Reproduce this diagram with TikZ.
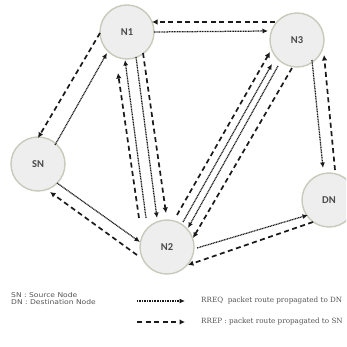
\documentclass[tikz,border=0pt]{standalone}
\usepackage{fontspec}
\usepackage{graphicx}
\setmainfont{DejaVu Serif}
\newfontfamily\nodefont{Carlito}
\newfontfamily\legsans{DejaVu Sans}
\newfontfamily\legserif{DejaVu Serif}
\usetikzlibrary{arrows.meta}
\definecolor{nodefill}{HTML}{EEEEEE}
\definecolor{ringc}{HTML}{C9C9BC}
\definecolor{labc}{HTML}{4A4A4A}
\definecolor{linec}{HTML}{1A1A1A}
\definecolor{legc}{HTML}{555555}
\tikzset{
  nd/.style={circle, draw=ringc, line width=1.4pt, fill=nodefill, minimum size=54pt,
    inner sep=0pt, font=\nodefont\fontsize{10.5}{12}\selectfont\bfseries, text=labc},
  rreq/.style={draw=linec, line width=1.25pt, dash pattern=on 1pt off 0.65pt,
    -{Latex[length=5.5pt,width=5pt]}},
  rrep/.style={draw=linec, line width=1.7pt, dash pattern=on 5pt off 3.5pt,
    -{Latex[length=5.5pt,width=5.5pt]}},
  legsanstxt/.style={anchor=west, inner sep=0pt, text=legc,
    font=\legsans\fontsize{6.6}{7}\selectfont},
  legseriftxt/.style={anchor=west, inner sep=0pt, text=legc,
    font=\legserif\fontsize{7.2}{8}\selectfont},
}
\begin{document}
\begin{tikzpicture}[x=1pt,y=-1pt]
\path[use as bounding box] (0,0) rectangle (346,347);
\clip (0,0) rectangle (346,347);
\fill[white] (0,0) rectangle (346,347);

% nodes
\node[nd] (N1) at (127,32) {N1};
\node[nd] (N3) at (297,40) {N3};
\node[nd] (SN) at (38,164) {SN};
\node[nd] (N2) at (167,247) {N2};
\node[nd] (DN) at (329,200) {DN};

% N1 <-> N3
\draw[rreq] ([shift={(27,0)}]N1.center) -- ([shift={(-29,-9)}]N3.center);
\draw[rrep] ([shift={(-22,-18)}]N3.center) -- ([shift={(25,-10)}]N1.center);

% SN <-> N1
\draw[rreq] ([shift={(17,-19)}]SN.center) -- ([shift={(-20,21)}]N1.center);
\draw[rrep] ([shift={(-27,1)}]N1.center) -- ([shift={(0,-26)}]SN.center);

% N1 <-> N2
\draw[rrep] ([shift={(-28,-29)}]N2.center) -- ([shift={(-9,41)}]N1.center);
\draw[rreq] ([shift={(-21,-29)}]N2.center) -- ([shift={(-2,28)}]N1.center);
\draw[rreq] ([shift={(9,25)}]N1.center) -- ([shift={(-10,-29)}]N2.center);
\draw[rrep] ([shift={(16,21)}]N1.center) -- ([shift={(-1,-34)}]N2.center);

% N2 <-> N3
\draw[rrep] ([shift={(10,-32)}]N2.center) -- ([shift={(-27,12)}]N3.center);
\draw[rreq] ([shift={(16,-25)}]N2.center) -- ([shift={(-25,24)}]N3.center);
\draw[rreq] ([shift={(-19,26)}]N3.center) -- ([shift={(21,-19)}]N2.center);
\draw[rrep] ([shift={(-5,28)}]N3.center) -- ([shift={(26,-9)}]N2.center);

% N3 <-> DN
\draw[rreq] ([shift={(15,20)}]N3.center) -- ([shift={(-6,-32)}]DN.center);
\draw[rrep] ([shift={(6,-30)}]DN.center) -- ([shift={(27,15)}]N3.center);

% SN <-> N2
\draw[rreq] ([shift={(19,19)}]SN.center) -- ([shift={(-27,-5)}]N2.center);
\draw[rrep] ([shift={(-30,8)}]N2.center) -- ([shift={(12,28)}]SN.center);

% N2 <-> DN
\draw[rreq] ([shift={(30,1)}]N2.center) -- ([shift={(-21,15)}]DN.center);
\draw[rrep] ([shift={(-16,22)}]DN.center) -- ([shift={(21,18)}]N2.center);

% legend
\node[legsanstxt] (k1) at (11,295) {\scalebox{1.15}[1]{SN : Source Node}};
\node[legsanstxt] (k2) at (11,302) {\scalebox{1.15}[1]{DN : Destination Node}};
\coordinate (q1) at (137,301);
\coordinate (q2) at (185,301);
\coordinate (p1) at (137,322);
\coordinate (p2) at (185,322);
\draw[rreq] (q1) -- (q2);
\draw[rrep] (p1) -- (p2);
\node[legseriftxt] (t1) at (201,301) {RREQ\ \ packet route propagated to DN};
\node[legseriftxt] (t2) at (201,322) {RREP : packet route propagated to SN};
\end{tikzpicture}
\end{document}
